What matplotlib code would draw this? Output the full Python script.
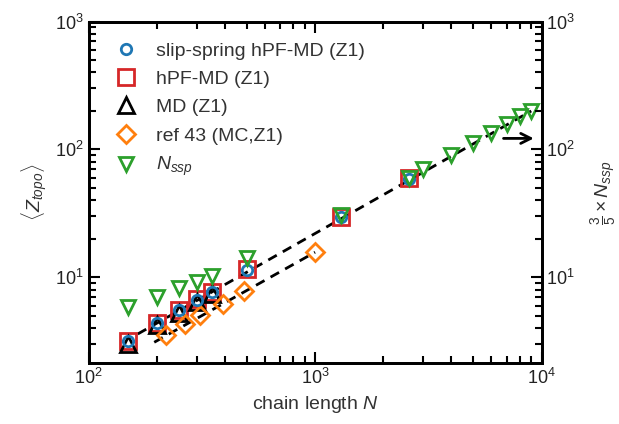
import numpy as np
import matplotlib
matplotlib.use("Agg")
import matplotlib.pyplot as plt

plt.rcParams['font.family'] = ['Liberation Sans', 'DejaVu Sans']
plt.rcParams['mathtext.fontset'] = 'custom'
plt.rcParams['mathtext.rm'] = 'Liberation Sans'
plt.rcParams['mathtext.it'] = 'Liberation Sans:italic'

# data
N_sim = [150, 200, 250, 300, 350, 500, 1300, 2600]
Z_ss = [3.2, 4.4, 5.5, 6.6, 7.65, 11.5, 29.7, 59]        # slip-spring hPF-MD
Z_hpf = [3.2, 4.4, 5.5, 6.7, 7.7, 11.6, 29.8, 59.5]      # hPF-MD

N_md = [150, 200, 250, 300, 350]
Z_md = [3.0, 4.2, 5.3, 6.4, 7.4]

N_ref = [220, 267, 311, 392, 484, 1000]
Z_ref = [3.52, 4.29, 5.03, 6.21, 7.87, 15.7]

N_ssp = [150, 200, 250, 300, 350, 500, 1300, 2600, 3000, 4000, 5000, 6000, 7000, 8000, 9000]
Z_ssp = [5.84, 6.98, 8.26, 9.25, 10.3, 14.2, 30.8, 60, 69.8, 90.4, 112.5, 134.6, 158, 181.5, 201]

# dashed guide lines (end points)
fit1_N = [165, 9000]
fit1_Z = [3.6, 200]
fit2_N = [195, 1000]
fit2_Z = [3.1, 15.7]

fig = plt.figure(figsize=(6.19, 4.24), dpi=100)
ax = fig.add_axes([0.143, 0.143, 0.732, 0.806])

ax.plot(fit1_N, fit1_Z, '--', color='black', lw=2, dashes=(3.5, 2.5), zorder=1)
ax.plot(fit2_N, fit2_Z, '--', color='black', lw=2, dashes=(3.5, 2.5), zorder=1)

h_hpf, = ax.plot(N_sim, Z_hpf, 's', ms=11, mfc='none', mec='#d62728', mew=2,
                 label='hPF-MD (Z1)', zorder=2)
h_md, = ax.plot(N_md, Z_md, '^', ms=12, mfc='none', mec='black', mew=2,
                label='MD (Z1)', zorder=3)
h_ref, = ax.plot(N_ref, Z_ref, 'D', ms=9, mfc='none', mec='#ff7f0e', mew=2,
                 label='ref 43 (MC,Z1)', zorder=3)
h_ss, = ax.plot(N_sim, Z_ss, 'o', ms=7.5, mfc='none', mec='#1f77b4', mew=2,
                label='slip-spring hPF-MD (Z1)', zorder=4)
h_ssp, = ax.plot(N_ssp, Z_ssp, 'v', ms=10, mfc='none', mec='#2ca02c', mew=2,
                 label=r'$N_{ssp}$', zorder=5)

ax.annotate('', xy=(9500, 122), xytext=(6600, 122),
            arrowprops=dict(arrowstyle='->', color='black', lw=2, mutation_scale=18))

ax.set_xscale('log')
ax.set_yscale('log')
ax.set_xlim(100, 10000)
ax.set_ylim(2.12, 1000)

ax.set_xlabel(r'chain length $N$', fontsize=14, color='#333333')
ax.set_ylabel(r'$\langle Z_{topo} \rangle$', fontsize=14, color='#333333', labelpad=4)

ax2 = ax.twinx()
ax2.set_yscale('log')
ax2.set_ylim(2.12, 1000)
ax2.set_ylabel(r'$\frac{3}{5}\times N_{ssp}$', fontsize=14, color='#333333', labelpad=10)

for a in (ax, ax2):
    for s in a.spines.values():
        s.set_linewidth(2)
    a.tick_params(which='both', direction='in', width=1.5, labelsize=13, colors='black',
                  labelcolor='#222222')
    a.tick_params(which='major', length=8)
    a.tick_params(which='minor', length=5)
ax.tick_params(which='both', top=True, right=False)
ax2.tick_params(which='both', right=True, left=False)

ax.legend(handles=[h_ss, h_hpf, h_md, h_ref, h_ssp], loc='upper left', frameon=False,
          fontsize=14, handletextpad=0.6, labelspacing=0.55, borderaxespad=0.65,
          numpoints=1, handlelength=1.8, labelcolor='#333333')

fig.savefig('out.png', dpi=100)
